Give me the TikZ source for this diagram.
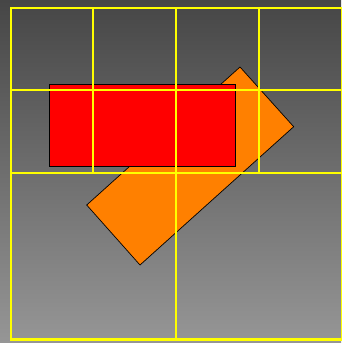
\documentclass[tikz,border=0pt]{standalone}
\definecolor{bgtop}{RGB}{70,70,70}
\definecolor{bgbot}{RGB}{150,150,150}
\definecolor{boxorange}{RGB}{255,128,0}
\definecolor{gridyellow}{RGB}{255,255,0}

\begin{document}
\begin{tikzpicture}[x=1pt,y=-1pt,
  cell/.style={draw=gridyellow, line width=1.1pt},
  boxedge/.style={draw=black, line width=0.7pt, line join=miter}]
\useasboundingbox (0,0) rectangle (341,343);
\shade[top color=bgtop, bottom color=bgbot] (0,0) rectangle (341,343);
% rotated box, under the red one
\draw[boxedge, fill=boxorange] (240,67) -- (293.7,126.7) -- (140,265) -- (86.7,205) -- cycle;
\draw[boxedge, fill=red] (49,84) rectangle (235,166);
% quadtree cells
\draw[cell, line width=1.8pt] (10.8,7.8) rectangle (342.5,339.8);
\foreach \cx/\cy in {10/7,176/7,10/173,176/173}
  \draw[cell] (\cx+0.3,\cy+0.3) rectangle (\cx+165.7,\cy+165.7);
\foreach \cx/\cy in {10/7,93/7,10/90,93/90,176/7,259/7,176/90,259/90}
  \draw[cell] (\cx+0.8,\cy+0.8) rectangle (\cx+82.6,\cy+82.6);
\end{tikzpicture}
\end{document}
